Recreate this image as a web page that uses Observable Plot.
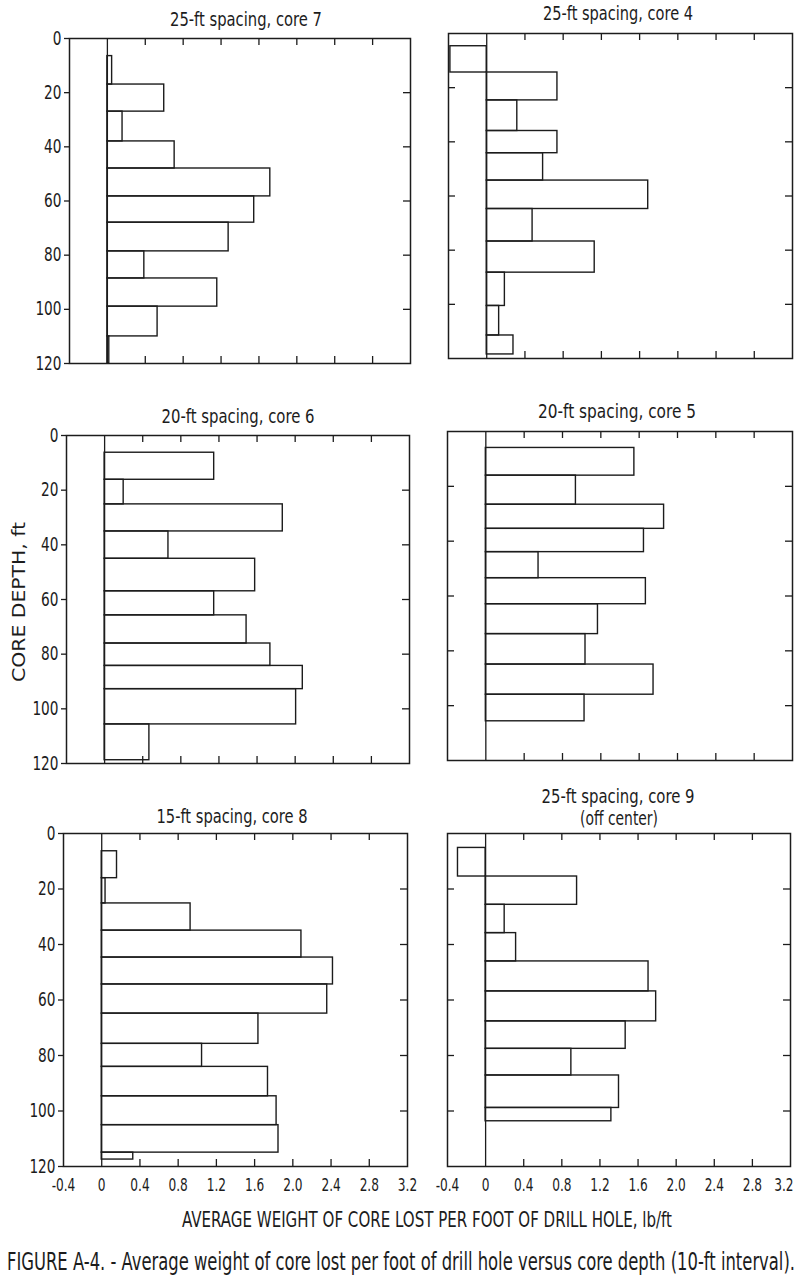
<!DOCTYPE html>
<html>
<head>
<meta charset="utf-8">
<script src="https://cdn.jsdelivr.net/npm/d3@7"></script>
<script src="https://cdn.jsdelivr.net/npm/@observablehq/plot@0.6"></script>
<style>
  html, body { margin: 0; padding: 0; background: #fff; }
  #root { position: relative; width: 800px; height: 1282px; overflow: hidden; background: #fff; }
  .panel { position: absolute; }
  #overlay { position: absolute; left: 0; top: 0; pointer-events: none; }
</style>
</head>
<body>
<div id="root"></div>
<script>
// ---------- data ----------
const panelTitles = [
  "25-ft spacing, core 7",
  "25-ft spacing, core 4",
  "20-ft spacing, core 6",
  "20-ft spacing, core 5",
  "15-ft spacing, core 8",
  "25-ft spacing, core 9"
];
const core9Note = "(off center)";
const yAxisLabel = "CORE DEPTH, ft";
const xAxisLabel = "AVERAGE WEIGHT OF CORE LOST PER FOOT OF DRILL HOLE, lb/ft";
const figureCaption = "FIGURE A-4. - Average weight of core lost per foot of drill hole versus core depth (10-ft interval).";

const weightTicks = [-0.4, 0, 0.4, 0.8, 1.2, 1.6, 2.0, 2.4, 2.8, 3.2];
const weightTickLabels = ["-0.4", "0", "0.4", "0.8", "1.2", "1.6", "2.0", "2.4", "2.8", "3.2"];
const innerWeightTicks = [0.4, 0.8, 1.2, 1.6, 2.0, 2.4, 2.8];
const depthTicks = [0, 20, 40, 60, 80, 100, 120];
const innerDepthTicks = [20, 40, 60, 80, 100];

// interval boundaries (ft) and weight lost (lb/ft) per interval
const core7Depth = [6.5, 17, 27, 38, 48, 58.3, 68, 78.6, 88.6, 99, 110, 120];
const core7Loss  = [0.05, 0.6, 0.16, 0.71, 1.72, 1.55, 1.28, 0.39, 1.16, 0.53, 0.02];

const core4Depth = [4.7, 14.4, 24.7, 36, 44.2, 54.3, 64.8, 76.8, 88.3, 100.6, 111.5, 118.5];
const core4Loss  = [-0.38, 0.74, 0.32, 0.74, 0.59, 1.69, 0.48, 1.13, 0.19, 0.13, 0.28];

const core6Depth = [6.3, 16.2, 25.2, 35.1, 45.1, 57, 65.8, 76.1, 84.3, 92.8, 105.7, 118.8];
const core6Loss  = [1.15, 0.2, 1.87, 0.67, 1.58, 1.15, 1.49, 1.74, 2.08, 2.01, 0.47];

const core5Depth = [6, 16.1, 26.7, 35.5, 44, 53.5, 63, 73.9, 85, 96, 105.7];
const core5Loss  = [1.55, 0.94, 1.86, 1.65, 0.55, 1.67, 1.17, 1.04, 1.75, 1.03];

const core8Depth = [6.4, 16.1, 25.2, 35, 44.7, 54.4, 64.9, 75.8, 84.1, 94.7, 105.1, 115, 117.5];
const core8Loss  = [0.16, 0.04, 0.93, 2.09, 2.42, 2.36, 1.64, 1.05, 1.74, 1.83, 1.85, 0.33];

const core9Depth = [5.2, 15.5, 25.7, 35.9, 46.1, 56.9, 67.7, 77.6, 87.2, 98.9, 103.7];
const core9Loss  = [-0.29, 0.96, 0.2, 0.32, 1.71, 1.79, 1.47, 0.9, 1.4, 1.32];

// ---------- layout ----------
const FONT = '"Liberation Sans Narrow", "Arial Narrow", "DejaVu Sans Condensed", sans-serif';
const INK = "#1c1c1c";

const panels = [
  {depth: core7Depth, loss: core7Loss, frameX: [69, 410], frameY: [38, 363], col: 0, last: false,
   title: {text: panelTitles[0], cx: 246, y: 26, len: 152}},
  {depth: core4Depth, loss: core4Loss, frameX: [448, 792], frameY: [33, 358], col: 1, last: false,
   title: {text: panelTitles[1], cx: 618, y: 20, len: 150}},
  {depth: core6Depth, loss: core6Loss, frameX: [66, 409], frameY: [435, 763], col: 0, last: false,
   title: {text: panelTitles[2], cx: 238, y: 423, len: 153}},
  {depth: core5Depth, loss: core5Loss, frameX: [447, 792], frameY: [431, 760], col: 1, last: false,
   title: {text: panelTitles[3], cx: 617, y: 418, len: 158}},
  {depth: core8Depth, loss: core8Loss, frameX: [63, 407], frameY: [833, 1166], col: 0, last: true,
   title: {text: panelTitles[4], cx: 232, y: 823, len: 151}},
  {depth: core9Depth, loss: core9Loss, frameX: [447, 790], frameY: [833, 1166], col: 1, last: true,
   title: {text: panelTitles[5], cx: 618, y: 803, len: 153},
   note: {text: core9Note, cx: 619, y: 825, len: 78}}
];

const root = document.getElementById("root");

function rowsOf(depth, loss) {
  return loss.map((v, i) => ({top: depth[i], bottom: depth[i + 1], v}));
}

// narrow the tick labels to mimic the condensed lettering of the original
function squeeze(chart, selector, factor) {
  d3.select(chart).selectAll(selector).each(function () {
    const w = this.getComputedTextLength();
    this.setAttribute("textLength", (w * factor).toFixed(2));
    this.setAttribute("lengthAdjust", "spacingAndGlyphs");
  });
}

const fmtWeight = d => weightTickLabels[weightTicks.indexOf(d)];

for (const p of panels) {
  const divLeft = p.col === 0 ? 0 : 420;
  const width = p.col === 0 ? 420 : 380;
  const mt = 8;
  const mb = p.last ? 40 : 8;
  const ml = p.frameX[0] - divLeft;
  const mr = divLeft + width - p.frameX[1];
  const iw = p.frameX[1] - p.frameX[0];
  const ih = p.frameY[1] - p.frameY[0];
  const height = ih + mt + mb;
  const tk = 7;

  const marks = [
    Plot.ruleX([0], {stroke: INK, strokeWidth: 1.3}),
    Plot.rect(rowsOf(p.depth, p.loss), {
      x1: 0, x2: "v", y1: "top", y2: "bottom",
      fill: "none", stroke: INK, strokeWidth: 1.4
    }),
    Plot.tickX(innerWeightTicks, {x: d => d, insetBottom: ih - tk, stroke: INK, strokeWidth: 1.3}),
    Plot.tickX(innerWeightTicks, {x: d => d, insetTop: ih - tk, stroke: INK, strokeWidth: 1.3}),
    Plot.tickY(innerDepthTicks, {y: d => d, insetLeft: iw - tk, stroke: INK, strokeWidth: 1.3}),
    Plot.frame({stroke: INK, strokeWidth: 1.5})
  ];
  if (p.col === 0) {
    marks.push(Plot.axisY(depthTicks, {
      anchor: "left", tickSize: 5, tickPadding: 3, fontSize: 19, label: null,
      stroke: INK, strokeWidth: 1.3, fill: INK
    }));
  } else {
    marks.push(Plot.tickY(innerDepthTicks, {y: d => d, insetRight: iw - tk, stroke: INK, strokeWidth: 1.3}));
  }
  if (p.last) {
    const axisOpts = {anchor: "bottom", tickSize: 0, tickPadding: 12, fontSize: 18, label: null,
                      tickFormat: fmtWeight, fill: INK};
    if (p.col === 0) {
      marks.push(Plot.axisX(weightTicks, axisOpts));
    } else {
      // the final label sits against the page edge, so it is right-aligned
      marks.push(Plot.axisX(weightTicks.slice(0, -1), axisOpts));
      marks.push(Plot.axisX(weightTicks.slice(-1), {...axisOpts, textAnchor: "end", dx: 3}));
    }
  }

  const chart = Plot.plot({
    width, height,
    marginLeft: ml, marginRight: mr, marginTop: mt, marginBottom: mb,
    x: {domain: [-0.4, 3.2], axis: null},
    y: {domain: [0, 120], reverse: true, axis: null},
    style: {fontFamily: FONT, background: "transparent", color: INK, overflow: "visible"},
    marks
  });
  const holder = document.createElement("div");
  holder.className = "panel";
  holder.style.left = divLeft + "px";
  holder.style.top = (p.frameY[0] - mt) + "px";
  holder.appendChild(chart);
  root.appendChild(holder);

  squeeze(chart, 'g[aria-label="x-axis tick label"] text', 0.75);
  squeeze(chart, 'g[aria-label="y-axis tick label"] text', 0.8);
}

// ---------- free text (titles, axis labels, caption) ----------
const overlay = d3.select(root).append("svg")
  .attr("id", "overlay")
  .attr("width", 800).attr("height", 1282)
  .style("font-family", FONT)
  .style("fill", INK);

function label(t, size, sy = 1) {
  overlay.append("text")
    .attr("transform", `translate(${t.cx},${t.y}) scale(1,${sy})`)
    .attr("text-anchor", "middle")
    .attr("font-size", size)
    .attr("textLength", t.len)
    .attr("lengthAdjust", "spacingAndGlyphs")
    .text(t.text);
}
for (const p of panels) {
  label(p.title, 19, 1.05);
  if (p.note) label(p.note, 19, 1.05);
}
label({text: xAxisLabel, cx: 427, y: 1227, len: 490}, 17, 1.2);
label({text: figureCaption, cx: 401, y: 1270, len: 788}, 18, 1.4);

overlay.append("text")
  .attr("transform", "translate(25,602) rotate(-90)")
  .attr("text-anchor", "middle")
  .attr("font-size", 17)
  .attr("textLength", 160)
  .attr("lengthAdjust", "spacingAndGlyphs")
  .text(yAxisLabel);
</script>
</body>
</html>
